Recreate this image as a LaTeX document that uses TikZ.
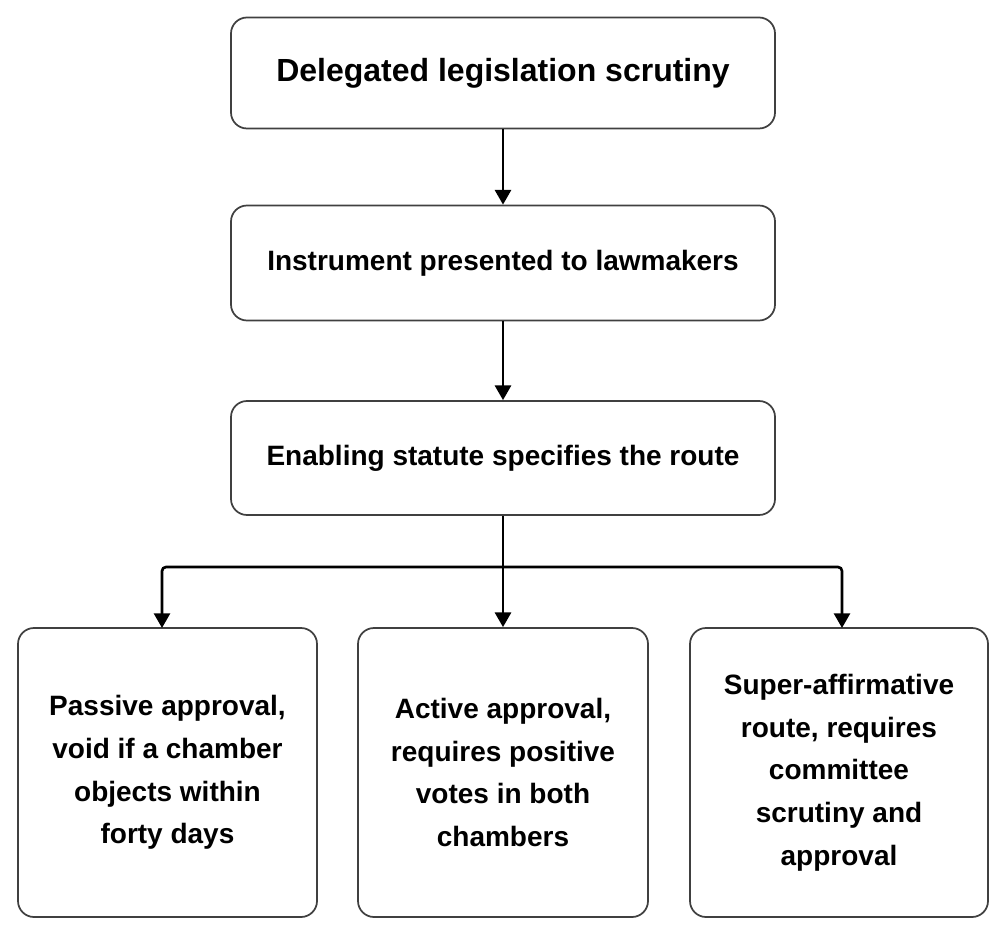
\documentclass[tikz,border=0pt]{standalone}
\usepackage{fontspec}
\setmainfont{Liberation Sans}
\usetikzlibrary{arrows.meta}
\begin{document}
\begin{tikzpicture}[x=0.75pt,y=-0.75pt]
        \tikzset{box/.style = {draw=black!75,line width=1.3pt,rounded corners=12pt,align=center,font=\bfseries}}
        \tikzset{edge/.style = {line width=2pt,-{Triangle[length=11pt,width=12pt]}}}
        \useasboundingbox (0,0) rectangle (1006,937);
        \node[box,minimum width=544*0.75pt,minimum height=111*0.75pt,font=\bfseries\fontsize{24}{28}\selectfont] (top) at (503,73) {Delegated legislation scrutiny};
        \node[box,minimum width=544*0.75pt,minimum height=115*0.75pt,font=\bfseries\fontsize{21}{25}\selectfont] (pres) at (503,263) {Instrument presented to lawmakers};
        \node[box,minimum width=544*0.75pt,minimum height=114*0.75pt,font=\bfseries\fontsize{21}{25}\selectfont] (route) at (503,458) {Enabling statute specifies the route};
        \node[box,minimum width=299*0.75pt,minimum height=289*0.75pt,font=\bfseries\fontsize{21}{32}\selectfont] (neg) at (167.5,772.5) {Passive approval,\\void if a chamber\\objects within\\forty days};
        \node[box,minimum width=290*0.75pt,minimum height=289*0.75pt,font=\bfseries\fontsize{21}{32}\selectfont] (aff) at (503,772.5) {Active approval,\\requires positive\\votes in both\\chambers};
        \node[box,minimum width=298*0.75pt,minimum height=289*0.75pt,font=\bfseries\fontsize{21}{32}\selectfont] (sup) at (839,772.5) {Super-affirmative\\route, requires\\committee\\scrutiny and\\approval};
        \coordinate (split) at (503,567);

        \draw[edge] (top) to (pres);
        \draw[edge] (pres) to (route);
        \draw[line width=2pt] (route.south) to (split);
        \draw[edge] (split) to (aff);
        \draw[edge,rounded corners=3pt] (split) -| (162,628);
        \draw[edge,rounded corners=3pt] (split) -| (842,628);
      \end{tikzpicture}
\end{document}
